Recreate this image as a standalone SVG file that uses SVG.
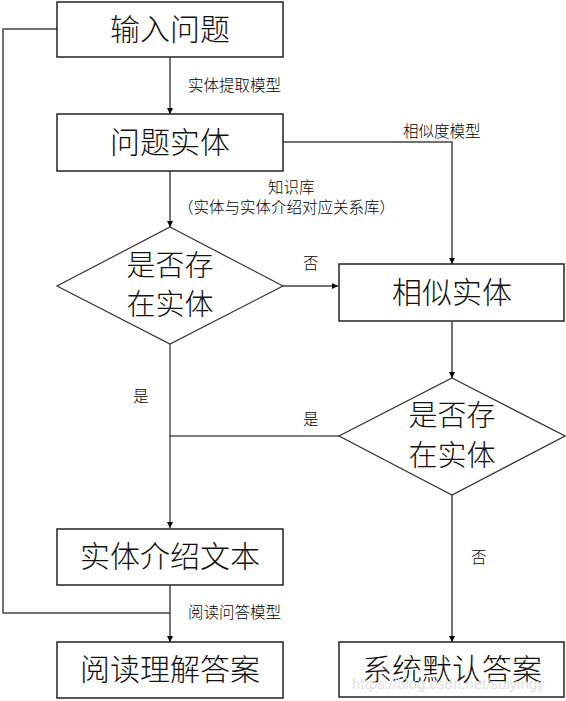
<svg xmlns="http://www.w3.org/2000/svg" width="566" height="701" viewBox="0 0 566 701">
<style>
.box{fill:#fff;stroke:#222;stroke-width:1.5}
.dia{fill:#fff;stroke:#333;stroke-width:1.2}
.big{font-family:"Noto Sans CJK SC","Noto Sans",sans-serif;font-size:30px;fill:#111;text-anchor:middle;font-weight:300}
.dt{font-size:29px}
.lab{font-family:"Noto Sans CJK SC","Noto Sans",sans-serif;font-size:15.5px;fill:#000;font-weight:300}
.ln{fill:none;stroke:#444;stroke-width:1.5}
.lt{fill:none;stroke:#000;stroke-width:1}
.wm{font-family:"Liberation Sans",Arial,sans-serif;font-size:15px;fill:#e2e2e2}
</style>
<defs>
<marker id="ar" viewBox="0 0 10 10" refX="10" refY="5" markerWidth="6" markerHeight="6" orient="auto" markerUnits="userSpaceOnUse">
<path d="M0,0 L10,5 L0,10 Z" fill="#000"/>
</marker>
</defs>
<rect width="566" height="701" fill="#fff"/>
<g id="connectors">
<path class="ln" d="M170,57 V114" marker-end="url(#ar)"/>
<path class="ln" d="M170,171 V227" marker-end="url(#ar)"/>
<path class="ln" d="M283,142 H452 V264" marker-end="url(#ar)"/>
<path class="ln" d="M283,286 H338" marker-end="url(#ar)"/>
<path class="ln" d="M452,322 V378" marker-end="url(#ar)"/>
<path class="lt" d="M170,344 V528" marker-end="url(#ar)"/>
<path class="lt" d="M339,436 H170"/>
<path class="ln" d="M452,495 V642" marker-end="url(#ar)"/>
<path class="ln" d="M170,585 V642" marker-end="url(#ar)"/>
<path class="ln" d="M57,29 H3 V613 H170"/>
<text class="lab" x="188" y="91">实体提取模型</text>
<text class="lab" x="403" y="137">相似度模型</text>
<text class="lab" x="268" y="193">知识库</text>
<text class="lab" x="178" y="213">（实体与实体介绍对应关系库）</text>
<text class="lab" x="303" y="269">否</text>
<text class="lab" x="133" y="402">是</text>
<text class="lab" x="303" y="425">是</text>
<text class="lab" x="471" y="563">否</text>
<text class="lab" x="188" y="618">阅读问答模型</text>
</g>
<g id="n1"><rect class="box" x="57" y="2" width="226" height="55"/><text class="big" x="170" y="40">输入问题</text></g>
<g id="n2"><rect class="box" x="57" y="114" width="226" height="57"/><text class="big" x="170" y="153">问题实体</text></g>
<g id="d1"><polygon class="dia" points="170,227 283,286 170,344 57,286"/><text class="big dt" x="170" y="276">是否存</text><text class="big dt" x="170" y="315">在实体</text></g>
<g id="n3"><rect class="box" x="339" y="264" width="225" height="57"/><text class="big" x="452" y="303">相似实体</text></g>
<g id="d2"><polygon class="dia" points="452,378 565,436 452,495 339,436"/><text class="big dt" x="452" y="426">是否存</text><text class="big dt" x="452" y="466">在实体</text></g>
<g id="n4"><rect class="box" x="57" y="529" width="226" height="56"/><text class="big" x="170" y="567">实体介绍文本</text></g>
<g id="n5"><rect class="box" x="57" y="642" width="226" height="56"/><text class="big" x="170" y="680">阅读理解答案</text></g>
<g id="n6"><rect class="box" x="339" y="642" width="225" height="55"/><text class="big" x="452" y="680">系统默认答案</text></g>
<text class="wm" x="352" y="689">https://blog.csdn.net/suiyingy</text>
</svg>
